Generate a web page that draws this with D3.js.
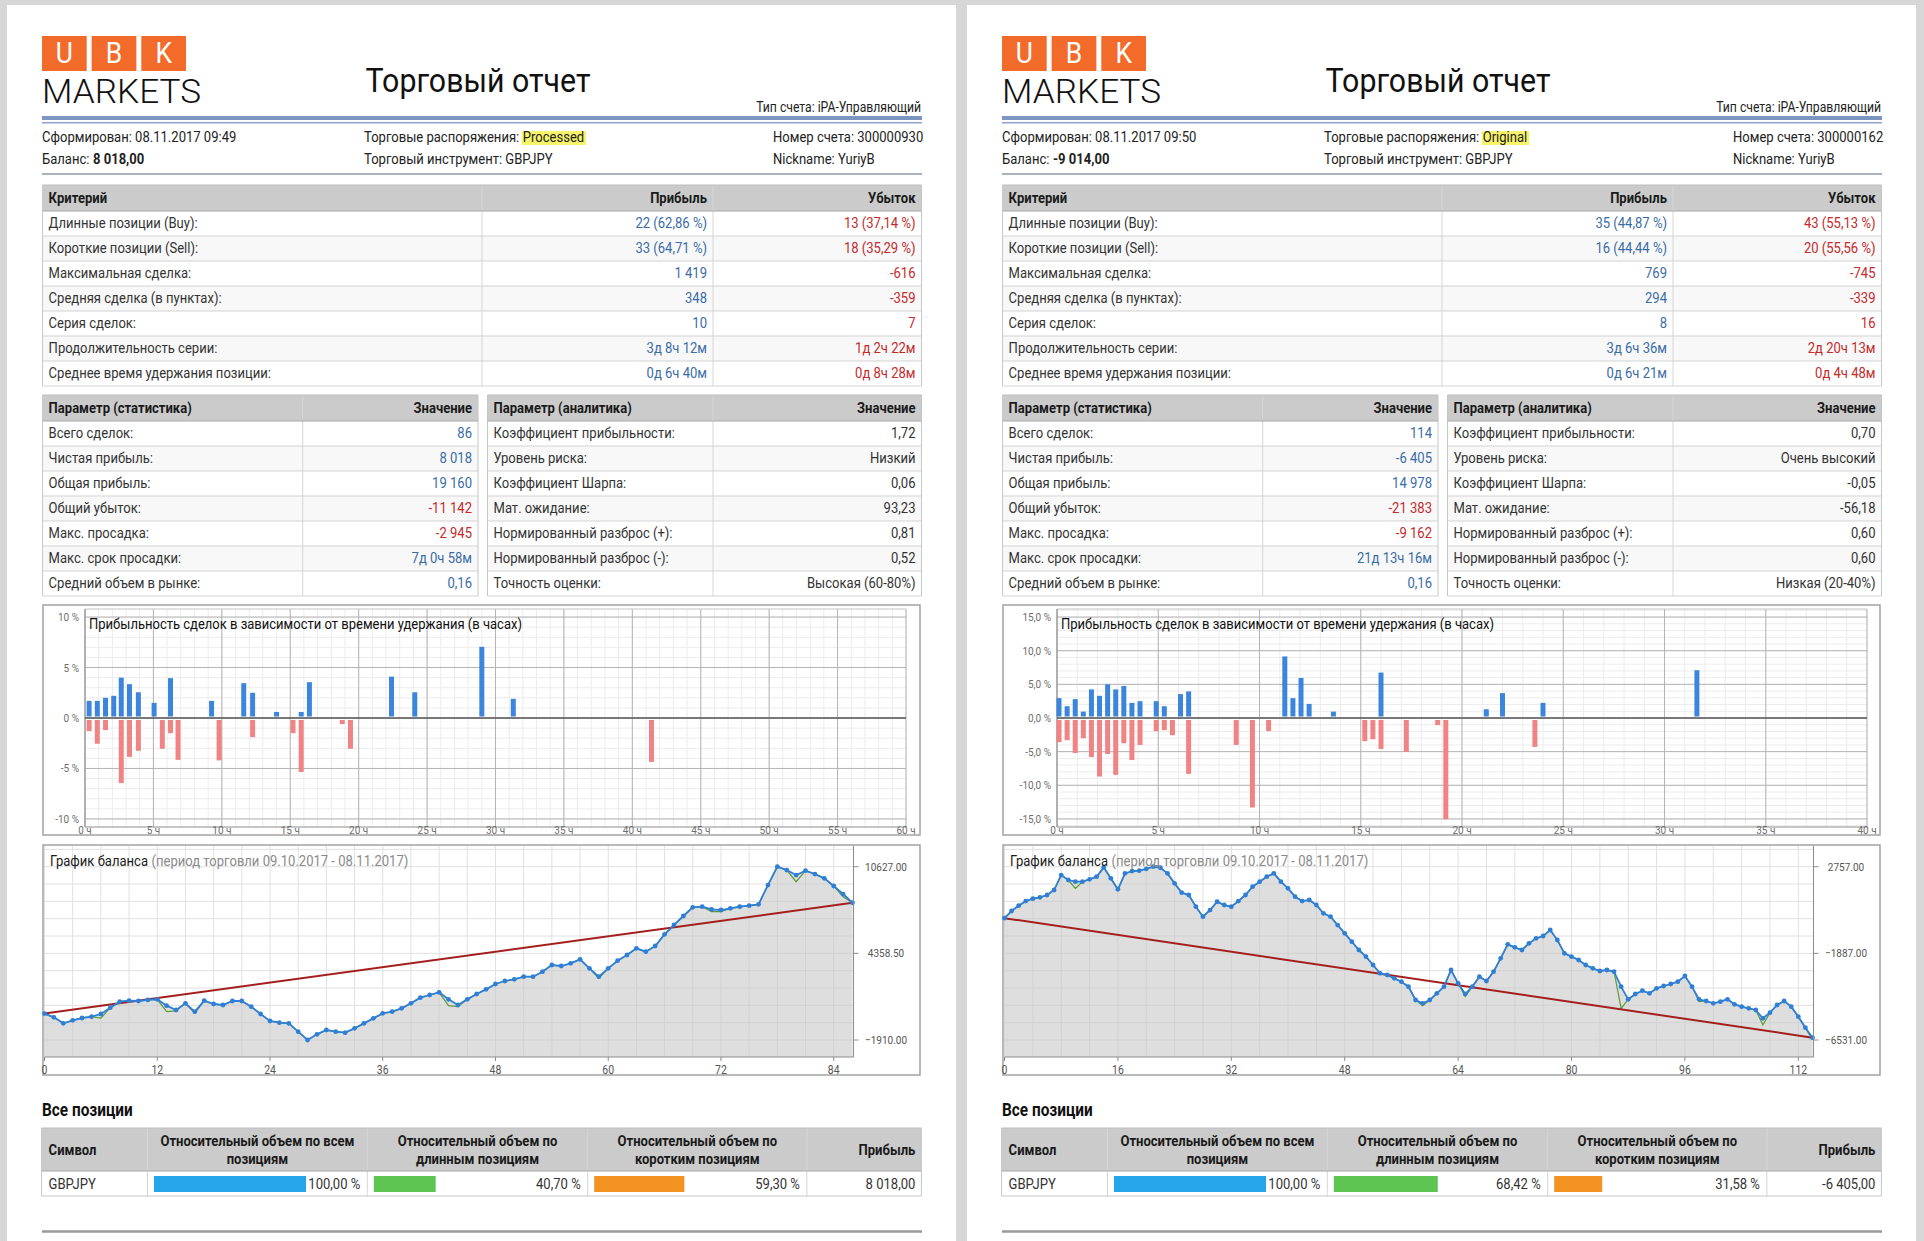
<!DOCTYPE html>
<html><head><meta charset="utf-8">
<script src="https://cdn.jsdelivr.net/npm/d3@7/dist/d3.min.js"></script>
<style>
html,body{margin:0;padding:0;background:#d7d7d7;overflow:hidden}
svg{display:block;font-family:Roboto,"Noto Sans","DejaVu Sans",sans-serif}
</style></head><body>
<svg id="c" width="1924" height="1241"></svg>
<script>
// ================= DATA =================
const logoLetters = ["U", "B", "K"];
const brandName = "MARKETS";
const reportTitle = "Торговый отчет";
const accountTypeLabel = "Тип счета: iPA-Управляющий";
const instrument = "GBPJPY";
const nickname = "YuriyB";
// [generated, orders mode, account no, balance]
const headerInfoA = ["08.11.2017 09:49", "Processed", "300000930", "8 018,00"];
const headerInfoB = ["08.11.2017 09:50", "Original", "300000162", "-9 014,00"];

const criteriaHeader = ["Критерий", "Прибыль", "Убыток"];
const criteriaLabels = ["Длинные позиции (Buy):", "Короткие позиции (Sell):", "Максимальная сделка:",
  "Средняя сделка (в пунктах):", "Серия сделок:", "Продолжительность серии:", "Среднее время удержания позиции:"];
const criteriaProfitA = ["22 (62,86 %)", "33 (64,71 %)", "1 419", "348", "10", "3д 8ч 12м", "0д 6ч 40м"];
const criteriaLossA = ["13 (37,14 %)", "18 (35,29 %)", "-616", "-359", "7", "1д 2ч 22м", "0д 8ч 28м"];
const criteriaProfitB = ["35 (44,87 %)", "16 (44,44 %)", "769", "294", "8", "3д 6ч 36м", "0д 6ч 21м"];
const criteriaLossB = ["43 (55,13 %)", "20 (55,56 %)", "-745", "-339", "16", "2д 20ч 13м", "0д 4ч 48м"];

const statHeader = ["Параметр (статистика)", "Значение"];
const statLabels = ["Всего сделок:", "Чистая прибыль:", "Общая прибыль:", "Общий убыток:",
  "Макс. просадка:", "Макс. срок просадки:", "Средний объем в рынке:"];
const statValuesA = ["86", "8 018", "19 160", "-11 142", "-2 945", "7д 0ч 58м", "0,16"];
const statValuesB = ["114", "-6 405", "14 978", "-21 383", "-9 162", "21д 13ч 16м", "0,16"];
const statIsLoss = [false, false, false, true, true, false, false];

const anaHeader = ["Параметр (аналитика)", "Значение"];
const anaLabels = ["Коэффициент прибыльности:", "Уровень риска:", "Коэффициент Шарпа:", "Мат. ожидание:",
  "Нормированный разброс (+):", "Нормированный разброс (-):", "Точность оценки:"];
const anaValuesA = ["1,72", "Низкий", "0,06", "93,23", "0,81", "0,52", "Высокая (60-80%)"];
const anaValuesB = ["0,70", "Очень высокий", "-0,05", "-56,18", "0,60", "0,60", "Низкая (20-40%)"];

const barTitle = "Прибыльность сделок в зависимости от времени удержания (в часах)";
// left report: holding time (hours) and profit (%)
const winHoursA = [0.3, 0.9, 1.5, 2.1, 2.65, 3.25, 3.9, 5.05, 6.25, 9.25, 11.6, 12.25, 14.0, 15.8, 16.4, 22.4, 24.1, 29.0, 31.3];
const winPctA = [1.7, 1.7, 2.0, 2.2, 4.0, 3.35, 2.55, 1.5, 3.95, 1.7, 3.45, 2.5, 0.6, 0.6, 3.55, 4.1, 2.55, 7.05, 1.9];
const lossHoursA = [0.3, 0.9, 1.5, 2.65, 3.25, 3.9, 5.65, 6.25, 6.8, 9.8, 12.25, 15.2, 15.8, 18.8, 19.4, 41.4];
const lossPctA = [-1.3, -2.55, -1.2, -6.45, -3.85, -3.25, -3.05, -1.5, -4.15, -4.2, -1.9, -1.5, -5.35, -0.6, -3.05, -4.35];
const barYTicksA = [-10, -5, 0, 5, 10];
const barXTicksA = [0, 5, 10, 15, 20, 25, 30, 35, 40, 45, 50, 55, 60];
// right report
const winHoursB = [0.1, 0.5, 0.9, 1.3, 1.7, 2.1, 2.5, 2.9, 3.3, 3.7, 4.1, 4.9, 5.3, 6.1, 6.5, 11.25, 11.65, 12.05, 12.45, 13.65, 16.0, 21.2, 22.0, 24.0, 31.6];
const winPctB = [2.95, 1.75, 2.8, 0.95, 4.25, 3.3, 5.0, 4.25, 4.75, 2.25, 2.5, 2.5, 1.75, 3.55, 3.95, 9.15, 2.95, 5.95, 2.1, 0.95, 6.75, 1.3, 3.7, 2.25, 7.1];
const lossHoursB = [0.1, 0.5, 0.9, 1.3, 1.7, 2.1, 2.5, 2.9, 3.3, 3.7, 4.1, 4.9, 5.3, 5.7, 6.5, 8.85, 9.65, 10.45, 15.2, 15.6, 16.0, 17.25, 18.8, 19.2, 23.6];
const lossPctB = [-3.6, -3.3, -5.2, -3.0, -5.8, -8.7, -5.35, -8.45, -3.75, -6.25, -4.0, -1.95, -1.8, -2.55, -8.3, -4.0, -13.3, -1.95, -3.45, -3.15, -4.6, -5.05, -1.05, -15.05, -4.3];
const barYTicksB = [-15, -10, -5, 0, 5, 10, 15];
const barXTicksB = [0, 5, 10, 15, 20, 25, 30, 35, 40];

const balanceTitle = "График баланса";
const balancePeriod = "(период торговли 09.10.2017 - 08.11.2017)";
const balanceA = [0, -271, -705, -488, -319, -222, -30, 428, 862, 935,
  911, 990, 1035, 573, 260, 742, 139, 935, 694, 621,
  911, 911, 501, -30, -536, -656, -705, -1307, -1910, -1500,
  -1187, -1307, -1380, -1066, -705, -343, 19, 139, 380, 742,
  1152, 1345, 1538, 1031, 621, 1031, 1417, 1755, 2140, 2357,
  2478, 2671, 2671, 3032, 3515, 3442, 3635, 3924, 3273, 2671,
  3273, 3828, 4238, 4720, 4479, 4889, 5733, 6408, 7059, 7686,
  7734, 7541, 7493, 7613, 7734, 7806, 7903, 9301, 10627, 10386,
  10024, 10338, 10096, 9783, 9229, 8650, 8018];
const equityDipsA = [[6, -330], [13, 139], [14, 200], [16, 19], [43, 573], [44, 500], [59, 2550], [71, 7372], [72, 7372], [80, 9541], [85, 8457]];
const balanceXTicksA = [0, 12, 24, 36, 48, 60, 72, 84];
const balanceB = [0, 382, 667, 917, 1042, 1114, 1239, 1507, 2310, 2043,
  1953, 1953, 2078, 2221, 2721, 2132, 1543, 2400, 2525, 2543,
  2640, 2757, 2700, 2400, 1864, 1364, 1239, 614, 78, 435,
  882, 703, 614, 917, 1239, 1685, 1953, 2221, 2400, 1953,
  1596, 1150, 917, 971, 703, 257, 78, -369, -815, -1262,
  -1708, -2065, -2512, -2958, -3048, -3226, -3405, -3673, -4387, -4566,
  -4387, -4030, -3673, -2780, -3494, -4066, -3673, -3137, -3369, -2869,
  -2155, -1404, -1565, -1708, -1351, -1083, -958, -636, -1172, -1887,
  -2065, -2244, -2512, -2690, -2833, -2780, -2869, -3673, -4351, -4066,
  -3887, -4030, -3762, -3637, -3530, -3405, -3101, -3673, -4351, -4441,
  -4566, -4476, -4351, -4619, -4744, -4834, -4923, -5369, -5066, -4655,
  -4441, -4744, -5280, -5869, -6405];
const equityDipsB = [[10, 1596], [16, 1507], [59, -4691], [65, -4208], [87, -4834], [98, -4476], [107, -5726], [114, -6531]];
const balanceXTicksB = [0, 16, 32, 48, 64, 80, 96, 112];

const posTitle = "Все позиции";
const posHeaders = ["Символ", "Относительный объем по всем|позициям", "Относительный объем по|длинным позициям", "Относительный объем по|коротким позициям", "Прибыль"];
const posShareA = [100, 40.70, 59.30];
const posProfitA = "8 018,00";
const posShareB = [100, 68.42, 31.58];
const posProfitB = "-6 405,00";

// ================= DRAWING =================
const SX = 0.87, FS = 15;
const BLUE_T = "#3a6ca6", RED_T = "#c42a2a";
const svg = d3.select("#c");
svg.append("rect").attr("width", 1924).attr("height", 1241).attr("fill", "#d7d7d7");

function txt(g, x, y, s, o = {}) {
  const sx = o.sx ?? SX;
  const t = g.append("text")
    .attr("transform", `translate(${x},${y}) scale(${sx},1)`)
    .attr("text-anchor", o.anchor || "start")
    .style("font-size", (o.size || FS) + "px")
    .style("font-weight", o.weight || 400)
    .attr("fill", o.fill || "#222")
    .text(s);
  if (o.len) t.attr("textLength", o.len / sx).attr("lengthAdjust", "spacingAndGlyphs");
  return t;
}
function tw(t, sx = SX) { return t.node().getComputedTextLength() * sx; }
function hline(g, x1, x2, y, c, w = 1) { g.append("line").attr("x1", x1).attr("x2", x2).attr("y1", y).attr("y2", y).attr("stroke", c).attr("stroke-width", w); }
function vline(g, x, y1, y2, c, w = 1) { g.append("line").attr("x1", x).attr("x2", x).attr("y1", y1).attr("y2", y2).attr("stroke", c).attr("stroke-width", w); }

function drawHeader(g, ox, info) {
  const band = d3.scaleBand().domain(logoLetters).range([ox + 42, ox + 186]).paddingInner(0.1);
  logoLetters.forEach(l => {
    g.append("rect").attr("x", band(l)).attr("y", 36).attr("width", band.bandwidth()).attr("height", 35).attr("fill", "#f26b2b");
    txt(g, band(l) + band.bandwidth() / 2, 63, l, { anchor: "middle", size: 30, weight: 400, fill: "#fff", sx: 0.88 });
  });
  txt(g, ox + 42, 103, brandName, { size: 34, weight: 300, sx: 1, len: 159, fill: "#111" });
  txt(g, ox + 478, 92, reportTitle, { anchor: "middle", size: 33, sx: 1, len: 225, fill: "#111" });
  txt(g, ox + 921, 112, accountTypeLabel, { anchor: "end", size: 14 });
  g.append("rect").attr("x", ox + 42).attr("y", 116).attr("width", 880).attr("height", 4).attr("fill", "#7d95c1");
  g.append("rect").attr("x", ox + 42).attr("y", 122).attr("width", 880).attr("height", 1.5).attr("fill", "#8ea3c9");

  txt(g, ox + 42, 142, "Сформирован: " + info[0]);
  const t1 = txt(g, ox + 364, 142, "Торговые распоряжения:");
  const w1 = tw(t1) + 3.5;
  const tmp = txt(g, 0, 0, info[1]); const w2 = tw(tmp); tmp.remove();
  g.append("rect").attr("x", ox + 364 + w1 - 1).attr("y", 131).attr("width", w2 + 3).attr("height", 14).attr("fill", "#f7f36a");
  txt(g, ox + 364 + w1, 142, info[1]);
  txt(g, ox + 773, 142, "Номер счета: " + info[2]);

  const b1 = txt(g, ox + 42, 164, "Баланс:");
  txt(g, ox + 42 + tw(b1) + 3.5, 164, info[3], { weight: 700 });
  txt(g, ox + 364, 164, "Торговый инструмент: " + instrument);
  txt(g, ox + 773, 164, "Nickname: " + nickname);
  hline(g, ox + 42, ox + 922, 174, "#8d9aab", 1.5);
}

function drawTable(g, ox, y0, edges, header, aligns, rows, colorFn) {
  const headH = 26, rowH = 25, n = rows.length;
  const x0 = ox + edges[0], W = edges[edges.length - 1] - edges[0];
  g.append("rect").attr("x", x0).attr("y", y0).attr("width", W).attr("height", headH).attr("fill", "#cbcbcb");
  rows.forEach((r, i) => g.append("rect").attr("x", x0).attr("y", y0 + headH + i * rowH).attr("width", W).attr("height", rowH).attr("fill", i % 2 ? "#f8f8f8" : "#fff"));
  const yEnd = y0 + headH + n * rowH;
  edges.forEach((e, j) => vline(g, ox + e, y0, yEnd, (j === 0 || j === edges.length - 1) ? "#c6c6c6" : "#d6d6d6"));
  hline(g, x0, x0 + W, y0, "#bdbdbd");
  for (let i = 0; i <= n; i++) hline(g, x0, x0 + W, y0 + headH + i * rowH, i === 0 ? "#a8a8a8" : "#d3d3d3");
  const tx = (j) => aligns[j] === "start" ? ox + edges[j] + 6 : ox + edges[j + 1] - 6;
  header.forEach((h, j) => txt(g, tx(j), y0 + 18, h, { anchor: aligns[j], weight: 700, fill: "#1a1a1a" }));
  rows.forEach((r, i) => r.forEach((c, j) => txt(g, tx(j), y0 + headH + i * rowH + 17, c, { anchor: aligns[j], fill: colorFn(i, j) })));
}

function drawBars(g, ox, cfg) {
  const L = ox + cfg.left, R = ox + cfg.right, TOP = 609, BOT = 827;
  g.append("rect").attr("x", ox + 43).attr("y", 605).attr("width", 877).attr("height", 230).attr("fill", "#fff").attr("stroke", "#a3a3a3").attr("stroke-width", 1.5);
  const x = d3.scaleLinear().domain([0, cfg.xmax]).range([L, R]);
  const y = d3.scaleLinear().domain([-cfg.ymax, cfg.ymax]).range([BOT, TOP]);
  const ym = Math.floor(cfg.ymax);
  d3.range(0, cfg.xmax + 1, 1).forEach(h => vline(g, x(h), TOP, BOT, "#ececec"));
  d3.range(-ym, ym + 1, 1).forEach(p => hline(g, L, R, y(p), "#ececec"));
  cfg.xticks.forEach(h => vline(g, x(h), TOP, BOT, "#b4b4b4"));
  cfg.yticks.forEach(p => hline(g, L, R, y(p), "#b4b4b4"));
  hline(g, L, R, TOP, "#c4c4c4");
  hline(g, L, R, BOT, "#8c8c8c");
  vline(g, L, TOP, BOT, "#8c8c8c");
  hline(g, L, R, y(0), "#5a5a5a", 1.3);
  const bw = 5;
  cfg.winH.forEach((h, i) => g.append("rect").attr("x", x(h) - bw / 2).attr("y", y(cfg.winP[i]))
    .attr("width", bw).attr("height", Math.max(0, y(0) - 1.5 - y(cfg.winP[i]))).attr("fill", "#3b86dc"));
  cfg.lossH.forEach((h, i) => g.append("rect").attr("x", x(h) - bw / 2).attr("y", y(0) + 2)
    .attr("width", bw).attr("height", Math.max(0, y(cfg.lossP[i]) - y(0) - 2)).attr("fill", "#f08383"));
  cfg.yticks.forEach(p => txt(g, L - 6, y(p) + 4, cfg.yfmt(p), { anchor: "end", size: 11.5, fill: "#6e6e6e" }));
  cfg.xticks.forEach(h => txt(g, x(h), 834, h + " ч", { anchor: "middle", size: 11.5, fill: "#6e6e6e" }));
  txt(g, L + 4, 629, barTitle, { size: 15, fill: "#111", len: 433 });
}

function drawBalance(g, ox, bal, dips, xticks, gridStep) {
  const n = bal.length;
  const L = ox + 44.5, R = ox + 853.5, TOP = 846, BOT = 1057;
  g.append("rect").attr("x", ox + 43).attr("y", 845).attr("width", 877).attr("height", 230).attr("fill", "#fff").attr("stroke", "#a3a3a3").attr("stroke-width", 1.5);
  const eq = bal.slice();
  dips.forEach(([i, v]) => { eq[i] = v; });
  const lo = Math.min(d3.min(bal), d3.min(eq)), hi = d3.max(bal);
  const x = d3.scaleLinear().domain([0, n - 1]).range([L, ox + 852.5]);
  const y = d3.scaleLinear().domain([lo, hi]).range([1040, 866.7]);
  const gridG = g.append("g");
  for (let k = -2; k <= 12; k++) {
    const py = y(lo + k * (hi - lo) / 10);
    if (py >= TOP && py <= BOT) hline(gridG, L, R, py, "#e0e0e0");
  }
  for (let i = 0; i < n; i += gridStep) vline(gridG, x(i), TOP, BOT, "#e0e0e0");
  const area = d3.area().x((d, i) => x(i)).y0(BOT).y1(d => y(d));
  g.append("path").datum(bal).attr("d", area).attr("fill", "#c8c8c8").attr("opacity", 0.6);
  const line = d3.line().x((d, i) => x(i)).y(d => y(d));
  g.append("path").datum(eq).attr("d", line).attr("fill", "none").attr("stroke", "#5a9a38").attr("stroke-width", 1.2);
  g.append("path").datum([[0, bal[0]], [n - 1, bal[n - 1]]]).attr("d", d3.line().x(d => x(d[0])).y(d => y(d[1])))
    .attr("stroke", "#a51e1e").attr("stroke-width", 2).attr("fill", "none");
  g.append("path").datum(bal).attr("d", line).attr("fill", "none").attr("stroke", "#2f7fd6").attr("stroke-width", 1.8);
  g.selectAll(null).data(bal).enter().append("circle").attr("cx", (d, i) => x(i)).attr("cy", d => y(d)).attr("r", 2.4).attr("fill", "#2f7fd6");
  vline(g, R, TOP, BOT, "#8c8c8c");
  hline(g, L, R, BOT, "#8c8c8c");
  [hi, (hi + lo) / 2, lo].forEach(v => {
    hline(g, R, R + 5, y(v), "#8c8c8c");
    txt(g, ox + 886, y(v) + 4, d3.format(".2f")(v), { anchor: "middle", size: 11.5, fill: "#555" });
  });
  xticks.forEach(t => {
    vline(g, x(t), BOT, BOT + 4, "#8c8c8c");
    txt(g, x(t), 1074, String(t), { anchor: "middle", size: 12, fill: "#555" });
  });
  const tt = txt(g, ox + 50, 866, balanceTitle, { size: 15, fill: "#1a1a1a" });
  txt(g, ox + 50 + tw(tt) + 3.5, 866, balancePeriod, { size: 15, fill: "#8a8a8a" });
}

function drawPositions(g, ox, shares, profit) {
  txt(g, ox + 42, 1116, posTitle, { size: 17.5, weight: 700, fill: "#111", sx: 0.88 });
  const E = [41.6, 147.5, 367.3, 587.7, 806.9, 921.4];
  const y0 = 1128, hh = 43, rh = 25;
  g.append("rect").attr("x", ox + E[0]).attr("y", y0).attr("width", E[5] - E[0]).attr("height", hh).attr("fill", "#cbcbcb");
  g.append("rect").attr("x", ox + E[0]).attr("y", y0 + hh).attr("width", E[5] - E[0]).attr("height", rh).attr("fill", "#fff");
  E.forEach((e, j) => vline(g, ox + e, y0, y0 + hh + rh, (j === 0 || j === 5) ? "#c6c6c6" : "#d6d6d6"));
  hline(g, ox + E[0], ox + E[5], y0, "#bdbdbd");
  hline(g, ox + E[0], ox + E[5], y0 + hh, "#a8a8a8");
  hline(g, ox + E[0], ox + E[5], y0 + hh + rh, "#c6c6c6");
  posHeaders.forEach((h, j) => {
    const parts = h.split("|");
    if (parts.length === 2) {
      const cx = ox + (E[j] + E[j + 1]) / 2;
      txt(g, cx, 1146, parts[0], { anchor: "middle", weight: 700, fill: "#1a1a1a" });
      txt(g, cx, 1164, parts[1], { anchor: "middle", weight: 700, fill: "#1a1a1a" });
    } else if (j === 0) txt(g, ox + E[0] + 7, 1155, h, { weight: 700, fill: "#1a1a1a" });
    else txt(g, ox + E[5] - 6, 1155, h, { anchor: "end", weight: 700, fill: "#1a1a1a" });
  });
  const ry = y0 + hh + 18;
  txt(g, ox + E[0] + 7, ry, instrument, { fill: "#333" });
  const wS = d3.scaleLinear().domain([0, 100]).range([0, 152]);
  const cols = ["#27a5ea", "#5ec553", "#f39322"];
  const fmt = v => d3.format(".2f")(v).replace(".", ",") + " %";
  shares.forEach((s, j) => {
    g.append("rect").attr("x", ox + E[j + 1] + 6.5).attr("y", 1176).attr("width", wS(s)).attr("height", 16).attr("fill", cols[j]);
    txt(g, ox + E[j + 2] - 7, ry, fmt(s), { anchor: "end", fill: "#333" });
  });
  txt(g, ox + E[5] - 6, ry, profit, { anchor: "end", fill: "#333" });
  hline(g, ox + 42, ox + 922, 1231.5, "#9a9a9a", 2.5);
}

function drawPage(ox, P) {
  const g = svg.append("g");
  g.append("rect").attr("x", ox + 7).attr("y", 5).attr("width", 949).attr("height", 1260).attr("fill", "#fff");
  drawHeader(g, ox, P.info);
  drawTable(g, ox, 185, [42.6, 482, 713, 921.5], criteriaHeader, ["start", "end", "end"],
    criteriaLabels.map((l, i) => [l, P.cProfit[i], P.cLoss[i]]),
    (i, j) => j === 0 ? "#333" : (j === 1 ? BLUE_T : RED_T));
  drawTable(g, ox, 395, [42.6, 302.7, 478], statHeader, ["start", "end"],
    statLabels.map((l, i) => [l, P.stat[i]]),
    (i, j) => j === 0 ? "#333" : (statIsLoss[i] ? RED_T : BLUE_T));
  drawTable(g, ox, 395, [487.5, 713, 921.5], anaHeader, ["start", "end"],
    anaLabels.map((l, i) => [l, P.ana[i]]),
    () => "#333");
  drawBars(g, ox, P.bars);
  drawBalance(g, ox, P.balance, P.dips, P.bxt, P.gridStep);
  drawPositions(g, ox, P.shares, P.profit);
}

drawPage(0, {
  info: headerInfoA, cProfit: criteriaProfitA, cLoss: criteriaLossA, stat: statValuesA, ana: anaValuesA,
  bars: { left: 85, right: 906, xmax: 60, ymax: 10.8, yticks: barYTicksA, xticks: barXTicksA,
    yfmt: v => v + " %", winH: winHoursA, winP: winPctA, lossH: lossHoursA, lossP: lossPctA },
  balance: balanceA, dips: equityDipsA, bxt: balanceXTicksA, gridStep: 3,
  shares: posShareA, profit: posProfitA
});
drawPage(960, {
  info: headerInfoB, cProfit: criteriaProfitB, cLoss: criteriaLossB, stat: statValuesB, ana: anaValuesB,
  bars: { left: 97, right: 907, xmax: 40, ymax: 16.2, yticks: barYTicksB, xticks: barXTicksB,
    yfmt: v => v.toFixed(1).replace(".", ",") + " %", winH: winHoursB, winP: winPctB, lossH: lossHoursB, lossP: lossPctB },
  balance: balanceB, dips: equityDipsB, bxt: balanceXTicksB, gridStep: 4,
  shares: posShareB, profit: posProfitB
});
</script></body></html>
